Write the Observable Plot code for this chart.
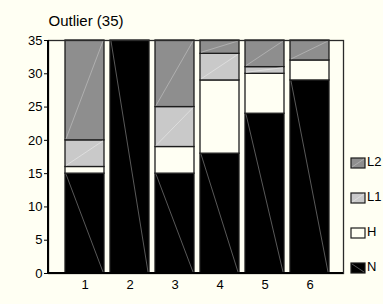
<!DOCTYPE html>
<html>
<head>
<meta charset="utf-8">
<script src="https://cdn.jsdelivr.net/npm/d3@7"></script>
<script src="https://cdn.jsdelivr.net/npm/@observablehq/plot@0.6"></script>
<style>
  html, body { margin: 0; padding: 0; background: #fffff3; }
  #chart { width: 383px; height: 304px; }
</style>
</head>
<body>
<div id="chart"></div>
<script>
const title = "Outlier (35)";
const categories = ["1", "2", "3", "4", "5", "6"];
const series = ["N", "H", "L1", "L2"];
const valuesN  = [15, 35, 15, 18, 24, 29];
const valuesH  = [1, 0, 4, 11, 6, 3];
const valuesL1 = [4, 0, 6, 4, 1, 0];
const valuesL2 = [15, 0, 10, 2, 4, 3];
const yTicks = [0, 5, 10, 15, 20, 25, 30, 35];

const bg = "#fffff3";
const fills = ["#000000", bg, "#c9c9c9", "#8e8e8e"];
const diagColors = {N: "#6e6e6e", L1: "#e2e2e2", L2: "#b8b8b8"};

const bySeries = [valuesN, valuesH, valuesL1, valuesL2];
const data = categories.flatMap((c, i) =>
  series.map((s, j) => ({cat: c, series: s, value: bySeries[j][i]}))
).filter(d => d.value > 0);

const plot = Plot.plot({
  width: 383,
  height: 304,
  marginTop: 40,
  marginBottom: 31,
  marginLeft: 48,
  marginRight: 40,
  style: {background: bg, fontFamily: "'Liberation Sans', Arial, sans-serif", fontSize: "13px", color: "#000"},
  x: {domain: categories, range: [60.8, 333.2], paddingInner: 0.14, paddingOuter: 0.07, label: null, tickSize: 0, tickPadding: 6},
  y: {domain: [0, 35], ticks: yTicks, tickSize: 4, tickPadding: 2, label: null},
  color: {domain: series, range: fills},
  marks: [
    Plot.barY(data, {x: "cat", y: "value", fill: "series", order: series, stroke: "#1c1c1c", strokeWidth: 1.3, inset: 0}),
    Plot.frame({stroke: "#2a2a2a", strokeWidth: 1.3}),
    Plot.text([title], {frameAnchor: "top-left", lineAnchor: "middle", dy: -19, textAnchor: "start", fontSize: 15})
  ]
});

document.getElementById("chart").appendChild(plot);

const svg = d3.select(plot);

// faint diagonal seams inside bars, derived from the rendered rects
svg.selectAll('g[aria-label="bar"] rect').each(function() {
  const r = d3.select(this);
  const x = +r.attr("x"), y = +r.attr("y"), w = +r.attr("width"), h = +r.attr("height");
  const f = (r.attr("fill") || "").toLowerCase();
  let s = null, down = true;
  if (f === fills[0]) { s = diagColors.N; down = true; }
  else if (f === fills[2]) { s = diagColors.L1; down = false; }
  else if (f === fills[3]) { s = diagColors.L2; down = false; }
  if (!s) return;
  d3.select(this.parentNode).append("line")
    .attr("x1", x + 1).attr("x2", x + w - 1)
    .attr("y1", down ? y + 1 : y + h - 1).attr("y2", down ? y + h - 1 : y + 1)
    .attr("stroke", s).attr("stroke-width", 0.8)
    .attr("fill", "none");
});

// heavier left and bottom axis lines along the frame
const fr = svg.select('g[aria-label="frame"] rect, rect[aria-label="frame"]');
if (!fr.empty()) {
  const fx = +fr.attr("x"), fy = +fr.attr("y"), fw = +fr.attr("width"), fh = +fr.attr("height");
  svg.append("line").attr("x1", fx).attr("x2", fx).attr("y1", fy).attr("y2", fy + fh + 1)
    .attr("stroke", "#000").attr("stroke-width", 2);
  svg.append("line").attr("x1", fx - 1).attr("x2", fx + fw).attr("y1", fy + fh).attr("y2", fy + fh)
    .attr("stroke", "#000").attr("stroke-width", 2);
}

// legend (top item is the top of the stack)
const legendX = 351, legendY0 = 158, legendStep = 35;
const legendItems = series.slice().reverse();
const lg = svg.append("g").attr("font-size", 13)
  .attr("font-family", "'Liberation Sans', Arial, sans-serif")
  .attr("text-anchor", "start");
legendItems.forEach((s, k) => {
  const j = series.indexOf(s);
  const y = legendY0 + k * legendStep;
  lg.append("rect").attr("x", legendX).attr("y", y).attr("width", 14).attr("height", 10)
    .attr("fill", fills[j]).attr("stroke", "#1c1c1c").attr("stroke-width", 1.2);
  if (diagColors[s]) {
    const down = s === "N";
    lg.append("line").attr("x1", legendX + 1).attr("x2", legendX + 13)
      .attr("y1", down ? y + 1 : y + 9).attr("y2", down ? y + 9 : y + 1)
      .attr("stroke", diagColors[s]).attr("stroke-width", 0.8);
  }
  lg.append("text").attr("x", legendX + 16).attr("y", y + 4).attr("dy", "0.32em")
    .attr("text-anchor", "start").text(s);
});
</script>
</body>
</html>
